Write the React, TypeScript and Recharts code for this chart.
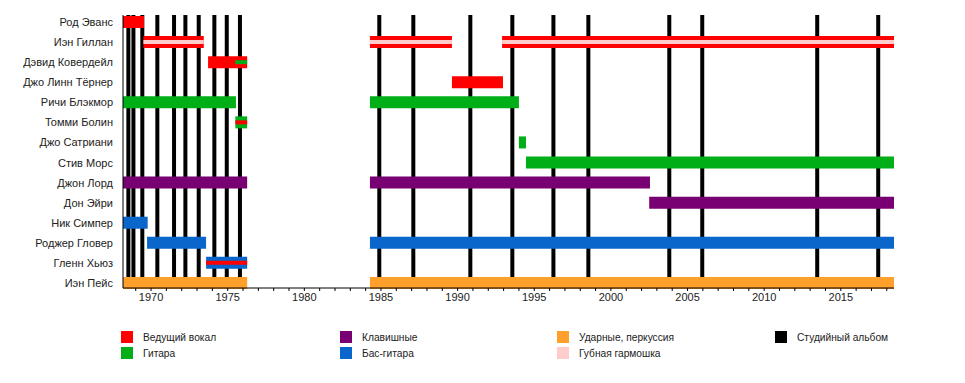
import React from 'react';
import { ComposedChart, Bar, Cell, XAxis, YAxis, ReferenceLine } from 'recharts';

type Seg = [number, number] | null;

const members = [
  'Род Эванс', 'Иэн Гиллан', 'Дэвид Ковердейл', 'Джо Линн Тёрнер', 'Ричи Блэкмор',
  'Томми Болин', 'Джо Сатриани', 'Стив Морс', 'Джон Лорд', 'Дон Эйри',
  'Ник Симпер', 'Роджер Гловер', 'Гленн Хьюз', 'Иэн Пейс',
];

const RED = '#ff0000';
const GREEN = '#00ae17';
const PURPLE = '#780073';
const BLUE = '#0a66ca';
const ORANGE = '#ff9f2c';
const PINK = '#ffcccc';

const memberColors = [RED, RED, RED, RED, GREEN, GREEN, GREEN, GREEN, PURPLE, PURPLE, BLUE, BLUE, BLUE, ORANGE];

// main membership spells (up to three per member)
const spell1: Seg[] = [
  [1968.17, 1969.54], [1969.5, 1973.44], [1973.72, 1976.27], [1989.63, 1992.96], [1968.17, 1975.54],
  [1975.5, 1976.27], [1994.0, 1994.46], [1994.46, 2018.47], [1968.17, 1976.27], [2002.5, 2018.47],
  [1968.17, 1969.78], [1969.74, 1973.59], [1973.59, 1976.27], [1968.17, 1976.27],
];
const spell2: Seg[] = [
  null, [1984.28, 1989.63], null, null, [1984.28, 1994.0],
  null, null, null, [1984.28, 2002.55], null,
  null, [1984.28, 2018.47], null, [1984.28, 2018.47],
];
const spell3: Seg[] = [
  null, [1992.9, 2018.47], null, null, null, null, null, null, null, null, null, null, null, null,
];

// secondary role stripes
const stripeColors = [PINK, PINK, GREEN, PINK, PINK, RED, PINK, PINK, PINK, PINK, PINK, PINK, RED, PINK];
const stripe1: Seg[] = [
  null, [1969.5, 1973.44], [1975.5, 1976.27], null, null,
  [1975.5, 1976.27], null, null, null, null,
  null, null, [1973.59, 1976.27], null,
];
const stripe2: Seg[] = [
  null, [1984.28, 1989.63], null, null, null, null, null, null, null, null, null, null, null, null,
];
const stripe3: Seg[] = [
  null, [1992.9, 2018.47], null, null, null, null, null, null, null, null, null, null, null, null,
];

const albums = [
  1968.52, 1968.85, 1969.43, 1970.41, 1971.5, 1972.24, 1973.11, 1974.13, 1974.94, 1975.8,
  1984.89, 1987.11, 1990.83, 1993.57, 1996.25, 1998.53, 2003.81, 2005.96, 2013.46, 2017.44,
];

const yearTicks = Array.from({ length: 50 }, (_, i) => 1969 + i);

const legendItems = [
  { label: 'Ведущий вокал', color: RED, col: 0, row: 0 },
  { label: 'Гитара', color: GREEN, col: 0, row: 1 },
  { label: 'Клавишные', color: PURPLE, col: 1, row: 0 },
  { label: 'Бас-гитара', color: BLUE, col: 1, row: 1 },
  { label: 'Ударные, перкуссия', color: ORANGE, col: 2, row: 0 },
  { label: 'Губная гармошка', color: PINK, col: 2, row: 1 },
  { label: 'Студийный альбом', color: '#000000', col: 3, row: 0 },
];
const legendCols = [113, 332, 549, 767];

const data = members.map((name, i) => ({
  name,
  s1: spell1[i], s2: spell2[i], s3: spell3[i],
  t1: stripe1[i], t2: stripe2[i], t3: stripe3[i],
}));

const font = '"Liberation Sans", Arial, sans-serif';
const yPad = { top: -3, bottom: -5 };
const domain: [number, number] = [1968.17, 2018.47];
const W = 957;
const H = 300;

const NameTick = (props: any) => {
  const { x, y, payload } = props;
  return (
    <text x={x} y={y} dy={4} textAnchor="end" fontSize={11} fill="#222" fontFamily={font}>
      {payload.value}
    </text>
  );
};

export default function App() {
  const hiddenAxes = ['m2', 'm3', 't1', 't2', 't3'];
  return (
    <div style={{ position: 'relative', width: W, height: 367, fontFamily: font }}>
      {/* studio album lines, drawn underneath the bars */}
      <div style={{ position: 'absolute', left: 0, top: 0 }}>
        <ComposedChart width={W} height={H} data={data} layout="vertical"
          margin={{ top: 7, right: 71, bottom: 20, left: 115 }}>
          <XAxis type="number" domain={domain} allowDataOverflow hide />
          <YAxis type="category" dataKey="name" hide padding={yPad} />
          {albums.map((a) => (
            <ReferenceLine key={a} x={a} stroke="#000" strokeWidth={4} />
          ))}
        </ComposedChart>
      </div>
      <div style={{ position: 'absolute', left: 0, top: 0 }}>
        <ComposedChart width={W} height={H} data={data} layout="vertical"
          margin={{ top: 7, right: 71, bottom: 0, left: 0 }}>
          <XAxis
            type="number"
            domain={domain}
            allowDataOverflow
            ticks={yearTicks}
            interval={0}
            tickFormatter={(v: number) => (v % 5 === 0 ? String(v) : '')}
            tick={{ fontSize: 11, fill: '#222', fontFamily: font }}
            tickSize={3}
            tickMargin={2}
            stroke="#000"
            height={20}
          />
          <YAxis
            type="category"
            dataKey="name"
            width={115}
            padding={yPad}
            tickLine={false}
            tickSize={0}
            tickMargin={10}
            stroke="#000"
            tick={<NameTick />}
            interval={0}
          />
          {hiddenAxes.map((id) => (
            <YAxis key={id} yAxisId={id} type="category" dataKey="name" hide padding={yPad} />
          ))}
          <Bar dataKey="s1" barSize={12} isAnimationActive={false}>
            {data.map((_, i) => <Cell key={i} fill={memberColors[i]} />)}
          </Bar>
          <Bar dataKey="s2" yAxisId="m2" barSize={12} isAnimationActive={false}>
            {data.map((_, i) => <Cell key={i} fill={memberColors[i]} />)}
          </Bar>
          <Bar dataKey="s3" yAxisId="m3" barSize={12} isAnimationActive={false}>
            {data.map((_, i) => <Cell key={i} fill={memberColors[i]} />)}
          </Bar>
          <Bar dataKey="t1" yAxisId="t1" barSize={4} isAnimationActive={false}>
            {data.map((_, i) => <Cell key={i} fill={stripeColors[i]} />)}
          </Bar>
          <Bar dataKey="t2" yAxisId="t2" barSize={4} isAnimationActive={false}>
            {data.map((_, i) => <Cell key={i} fill={stripeColors[i]} />)}
          </Bar>
          <Bar dataKey="t3" yAxisId="t3" barSize={4} isAnimationActive={false}>
            {data.map((_, i) => <Cell key={i} fill={stripeColors[i]} />)}
          </Bar>
        </ComposedChart>
      </div>
      {legendItems.map((item) => (
        <div
          key={item.label}
          style={{
            position: 'absolute',
            left: legendCols[item.col],
            top: 323 + item.row * 16,
            display: 'flex',
            alignItems: 'center',
            fontSize: 10.2,
            color: '#222',
            whiteSpace: 'nowrap',
          }}
        >
          <span style={{ display: 'inline-block', width: 12, height: 12, background: item.color, marginRight: 10 }} />
          {item.label}
        </div>
      ))}
    </div>
  );
}
